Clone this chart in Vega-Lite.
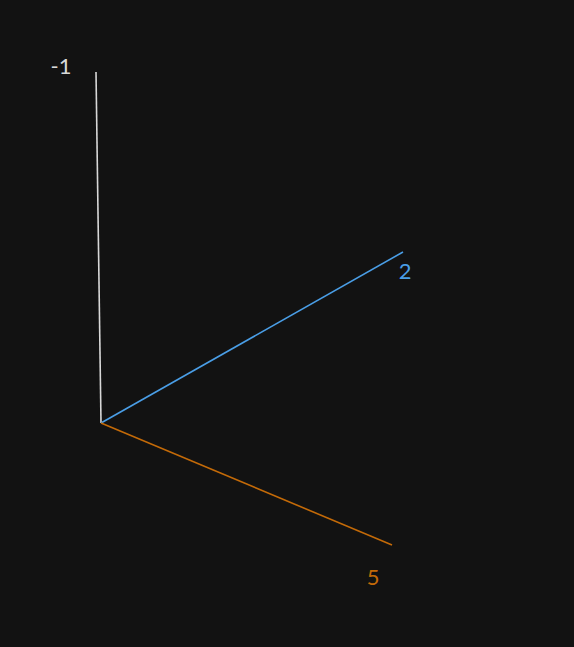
{
"$schema": "https://vega.github.io/schema/vega-lite/v6.json",
"width": 574, "height": 647,
"autosize": {"type": "fit", "contains": "padding"},
"padding": 0,
"background": "#121212",
"config": {"view": {"stroke": null}},
"data": {"values": [
  {"series": "-1", "x": 101, "y": 423, "x2": 96, "y2": 72, "lx": 61, "ly": 67},
  {"series": "2", "x": 101, "y": 423, "x2": 403, "y2": 252, "lx": 405, "ly": 272},
  {"series": "5", "x": 101, "y": 423, "x2": 392, "y2": 545, "lx": 373, "ly": 578}
]},
"encoding": {
  "color": {"field": "series", "type": "nominal", "legend": null,
    "scale": {"domain": ["-1", "2", "5"], "range": ["#d8d8d8", "#4a9ee6", "#c36a08"]}}
},
"layer": [
  {"mark": {"type": "rule", "strokeWidth": 1.6},
   "encoding": {
     "x": {"field": "x", "type": "quantitative", "scale": {"domain": [0, 574]}, "axis": null},
     "y": {"field": "y", "type": "quantitative", "scale": {"domain": [0, 647], "reverse": true}, "axis": null},
     "x2": {"field": "x2"}, "y2": {"field": "y2"}}},
  {"mark": {"type": "text", "font": "Lato", "fontSize": 22, "baseline": "middle", "align": "center"},
   "encoding": {
     "x": {"field": "lx", "type": "quantitative", "scale": {"domain": [0, 574]}, "axis": null},
     "y": {"field": "ly", "type": "quantitative", "scale": {"domain": [0, 647], "reverse": true}, "axis": null},
     "text": {"field": "series"}}}
]
}
